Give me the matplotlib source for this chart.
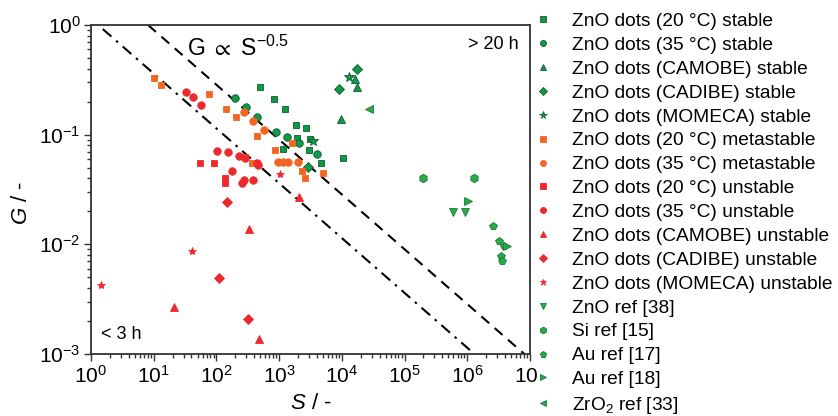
import numpy as np
import matplotlib
matplotlib.use("Agg")
import matplotlib.pyplot as plt
from matplotlib.ticker import LogLocator, NullFormatter

plt.rcParams['font.family'] = ['Liberation Sans', 'DejaVu Sans']
plt.rcParams['mathtext.fontset'] = 'custom'
plt.rcParams['mathtext.rm'] = 'Liberation Sans'
plt.rcParams['mathtext.it'] = 'Liberation Sans:italic'
plt.rcParams['mathtext.bf'] = 'Liberation Sans:bold'
plt.rcParams['axes.unicode_minus'] = False

# ---------------- data ----------------
# stable
S_st20 = [495, 813, 1218, 1858, 2712, 1950, 3050, 1165, 2940, 4570, 10240]
G_st20 = [0.270, 0.210, 0.172, 0.1217, 0.1158, 0.0938, 0.0907, 0.0735, 0.0722, 0.0554, 0.0610]
S_st35 = [201, 296, 449, 901, 1350, 2051, 4060]
G_st35 = [0.218, 0.178, 0.146, 0.105, 0.0962, 0.0834, 0.0669]
S_stCAM = [9590, 16500, 17640]
G_stCAM = [0.138, 0.320, 0.270]
S_stCAD = [17260, 8850, 2886]
G_stCAD = [0.399, 0.260, 0.0510]
S_stMOM = [13150, 3405]
G_stMOM = [0.339, 0.0876]
# metastable
S_me20 = [10.1, 13.2, 77, 142, 203, 439, 844, 1622, 286, 369, 2299, 2585, 5060]
G_me20 = [0.327, 0.286, 0.233, 0.1715, 0.145, 0.098, 0.0722, 0.0845, 0.0622, 0.0548, 0.0464, 0.0405, 0.045]
S_me35 = [275, 387, 574, 959, 1153, 1385, 2000]
G_me35 = [0.161, 0.1346, 0.110, 0.056, 0.0558, 0.0558, 0.0558]
# unstable
S_un20 = [54.7, 92.5, 138.5, 138.5]
G_un20 = [0.0546, 0.0546, 0.0403, 0.0362]
S_un35 = [32.7, 41.6, 56.8, 103, 155, 233, 286, 439, 452, 179, 275, 253, 379]
G_un35 = [0.245, 0.219, 0.1865, 0.0714, 0.0688, 0.0639, 0.0609, 0.0548, 0.0534, 0.0466, 0.039, 0.0366, 0.0386]
S_unCAM = [2037, 334, 21.3, 472]
G_unCAM = [0.0273, 0.0137, 0.00267, 0.00137]
S_unCAD = [146, 110, 322]
G_unCAD = [0.0242, 0.00493, 0.0021]
S_unMOM = [1044, 40.8, 1.46]
G_unMOM = [0.0435, 0.0087, 0.00426]
# literature
S_ZnOref = [5.86e5, 9.31e5]
G_ZnOref = [0.0199, 0.0199]
S_Si = [1.946e5, 1.28e6]
G_Si = [0.040, 0.040]
S_Au17 = [2.55e6, 3.24e6, 3.85e6, 3.41e6, 3.62e6]
G_Au17 = [0.0148, 0.01072, 0.00956, 0.00788, 0.00705]
S_Au18 = [1.04e6, 4.35e6]
G_Au18 = [0.025, 0.00966]
S_ZrO2 = [27100]
G_ZrO2 = [0.173]

# guide lines G = k * S^-0.5
exponent = -0.5
k_dash = 2.85
k_dashdot = 1.14

labels = ["ZnO dots (20 °C) stable", "ZnO dots (35 °C) stable",
          "ZnO dots (CAMOBE) stable", "ZnO dots (CADIBE) stable",
          "ZnO dots (MOMECA) stable", "ZnO dots (20 °C) metastable",
          "ZnO dots (35 °C) metastable", "ZnO dots (20 °C) unstable",
          "ZnO dots (35 °C) unstable", "ZnO dots (CAMOBE) unstable",
          "ZnO dots (CADIBE) unstable", "ZnO dots (MOMECA) unstable",
          "ZnO ref [38]", "Si ref [15]", "Au ref [17]", "Au ref [18]",
          "ZrO$_2$ ref [33]"]

green = '#12974a'
green_e = '#0b5e2c'
rgreen = '#2aa84c'
rgreen_e = '#1b7a36'
orange = '#f26522'
red = '#ec2a2e'

fig = plt.figure(figsize=(8.38, 4.16), dpi=100)
ax = fig.add_axes([91/838, 1-354/416, (530-91)/838, (354-25)/416])

series = [
    (S_st20, G_st20, 's', 4.8, green, green_e),
    (S_st35, G_st35, 'o', 5.4, green, green_e),
    (S_stCAM, G_stCAM, '^', 6.0, green, green_e),
    (S_stCAD, G_stCAD, 'D', 4.6, green, green_e),
    (S_stMOM, G_stMOM, '*', 7.0, green, green_e),
    (S_me20, G_me20, 's', 4.8, orange, orange),
    (S_me35, G_me35, 'o', 5.4, orange, orange),
    (S_un20, G_un20, 's', 4.8, red, red),
    (S_un35, G_un35, 'o', 5.4, red, red),
    (S_unCAM, G_unCAM, '^', 6.0, red, red),
    (S_unCAD, G_unCAD, 'D', 4.6, red, red),
    (S_unMOM, G_unMOM, '*', 6.0, red, red),
    (S_ZnOref, G_ZnOref, 'v', 6.0, rgreen, rgreen_e),
    (S_Si, G_Si, 'h', 6.0, rgreen, rgreen_e),
    (S_Au17, G_Au17, 'p', 6.0, rgreen, rgreen_e),
    (S_Au18, G_Au18, '>', 6.0, rgreen, rgreen_e),
    (S_ZrO2, G_ZrO2, '<', 6.0, rgreen, rgreen_e),
]

# guide lines
S_l1 = np.logspace(np.log10((k_dash) ** 2), 7, 50)
ax.plot(S_l1, k_dash * S_l1 ** exponent, color='black', lw=1.5,
        dashes=(5, 3.5), zorder=1)
S_l2 = np.logspace(np.log10(1.54), np.log10(2e6), 50)
ax.plot(S_l2, k_dashdot * S_l2 ** exponent, color='black', lw=1.5,
        dashes=(5.5, 3, 1.2, 3), zorder=1)

handles = []
for (S, G, m, ms, fc, ec), lab in zip(series, labels):
    h, = ax.plot(S, G, ls='none', marker=m, ms=ms, mfc=fc, mec=ec,
                 mew=0.6, label=lab, zorder=3)
    handles.append(h)

ax.set_xscale('log')
ax.set_yscale('log')
ax.set_xlim(1, 1e7)
ax.set_ylim(1e-3, 1)
for axis in (ax.xaxis, ax.yaxis):
    axis.set_major_locator(LogLocator(base=10, numticks=20))
    axis.set_minor_locator(LogLocator(base=10, subs=np.arange(2, 10), numticks=20))
    axis.set_minor_formatter(NullFormatter())

for sp in ax.spines.values():
    sp.set_color('#333333')
    sp.set_linewidth(1.3)
ax.tick_params(which='both', direction='out', top=False, right=False,
               color='#333333', width=1.0)
ax.tick_params(which='major', length=5, labelsize=15, pad=2.5)
ax.tick_params(which='minor', length=3)

ax.set_xlabel('$S$ / -', fontsize=16)
ax.xaxis.set_label_coords(0.5, -0.12)
ax.set_ylabel('$G$ / -', fontsize=16)
ax.yaxis.set_label_coords(-0.135, 0.46)

ax.text(0.335, 0.93, r'$\mathregular{G\ \propto\ S^{-0.5}}$', transform=ax.transAxes,
        fontsize=16.5, ha='center', va='center')
ax.text(0.975, 0.94, '> 20 h', transform=ax.transAxes, fontsize=13,
        ha='right', va='center')
ax.text(0.022, 0.058, '< 3 h', transform=ax.transAxes, fontsize=13,
        ha='left', va='center')

leg = fig.legend(handles=handles, loc='upper left',
                 bbox_to_anchor=(538.2/838, 1 - 12.6/416), frameon=True,
                 facecolor='white', edgecolor='none', framealpha=1,
                 fancybox=False,
                 fontsize=13.8, handlelength=0.5, handletextpad=1.26,
                 labelspacing=0.337, borderpad=0, borderaxespad=0,
                 markerscale=0.8)

fig.savefig('out.png', dpi=100)
